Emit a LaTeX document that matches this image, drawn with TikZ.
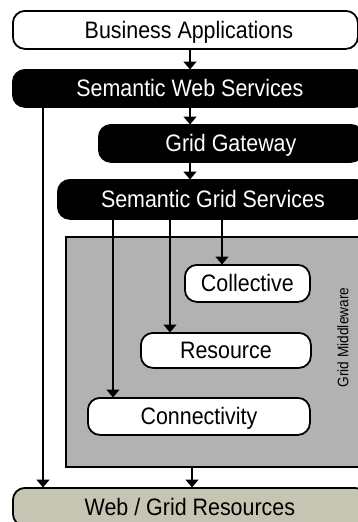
\documentclass[tikz,border=0pt]{standalone}
\usepackage{fontspec}
\setmainfont{Liberation Sans}[FakeStretch=0.9]
\usetikzlibrary{arrows.meta}

\definecolor{midgray}{RGB}{178,178,178}
\definecolor{khaki}{RGB}{198,196,178}

\tikzset{
  layer/.style={draw=black, line width=1.8pt, rounded corners=12pt,
    anchor=north west, inner sep=0pt,
    font=\fontsize{23.8}{26}\selectfont, text height=17pt, text depth=0pt},
  whitelayer/.style={layer, fill=white, text=black},
  blacklayer/.style={layer, fill=black, text=white},
  reslayer/.style={layer, fill=khaki, text=black},
  midbox/.style={draw=black, line width=1.8pt, fill=midgray, anchor=north west, inner sep=0pt},
  flow/.style={line width=1.5pt, -{Triangle[width=13pt,length=8pt]}, shorten >=-0.5pt},
}

% a box from (x1,y1) to (x2,y2), y measured downwards
\newcommand{\layerbox}[7]{%
  \node[#1, minimum width=#5pt-#3pt, minimum height=#6pt-#4pt] (#2) at (#3,#4) {#7};}

\begin{document}
\begin{tikzpicture}[x=1pt,y=-1pt]
  \useasboundingbox (0,0) rectangle (358,522);
  \clip (0,0) rectangle (358,522);

  % outer service layers
  \layerbox{whitelayer}{ba}{12}{10}{357}{48}{\hspace*{7pt}Business Applications}
  \layerbox{blacklayer}{sws}{12}{69}{366}{106}{Semantic Web Services}
  \layerbox{blacklayer}{gg}{98}{124}{362}{161}{Grid Gateway}
  \layerbox{blacklayer}{sgs}{57}{179}{367}{218}{Semantic Grid Services}

  % grid middleware block with its three layers
  \node[midbox, minimum width=300pt, minimum height=230pt] (gm) at (65,236) {};
  \node[rotate=90, font=\fontsize{15.2}{17}\selectfont, text height=10.9pt, text depth=0pt]
    (gmlabel) at (343,337.5) {Grid Middleware};
  \layerbox{whitelayer}{coll}{184}{264}{309}{301}{Collective}
  \layerbox{whitelayer}{res}{140}{332}{310}{367}{Resource}
  \layerbox{whitelayer}{conn}{87}{397}{309}{434}{Connectivity}

  % resources at the bottom
  \layerbox{reslayer}{wgr}{12}{487}{366}{525}{Web / Grid Resources}

  % connectors
  \draw[flow] (ba.south -| 190,0) -- (sws.north -| 190,0);
  \draw[flow] (sws.south -| 190,0) -- (gg.north -| 190,0);
  \draw[flow] (gg.south -| 190,0) -- (sgs.north -| 190,0);
  \draw[flow] (sgs.south -| 222,0) -- (coll.north -| 222,0);
  \draw[flow] (sgs.south -| 170,0) -- (res.north -| 170,0);
  \draw[flow] (sgs.south -| 113,0) -- (conn.north -| 113,0);
  \draw[flow] (sws.south -| 43,0) -- (wgr.north -| 43,0);
  \draw[flow] (gm.south -| 192,0) -- (wgr.north -| 192,0);
\end{tikzpicture}
\end{document}
